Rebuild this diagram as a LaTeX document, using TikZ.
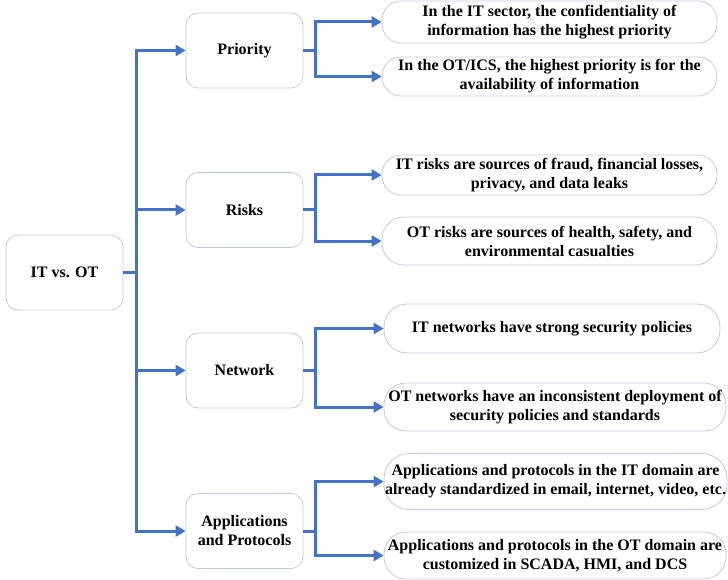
\documentclass[tikz,border=0pt]{standalone}
\usepackage{fontspec}
\setmainfont{Liberation Serif}[BoldFont={Liberation Serif Bold}]
\usetikzlibrary{arrows.meta}
\definecolor{linkblue}{HTML}{4472C4}
\definecolor{boxline}{HTML}{C3CBE3}
\begin{document}
\begin{tikzpicture}[x=1pt,y=-1pt,
  box/.style={draw=boxline, line width=0.8pt, rounded corners=12pt, align=center,
    font=\fontsize{16}{19}\selectfont\bfseries, minimum width=117pt, minimum height=75pt, inner sep=0pt},
  leaf/.style={draw=boxline, line width=0.8pt, rounded corners=19pt, align=center,
    font=\fontsize{16}{19}\selectfont\bfseries, inner sep=0pt},
  link/.style={draw=linkblue, line width=3pt, -{Triangle[length=10pt,width=11pt]}}
]
\useasboundingbox (0,0) rectangle (728,580);
\node[box] (root) at (64.5,272.5) {IT vs. OT};
\node[box] (pri) at (244.5,50.5) {Priority};
\node[box] (risk) at (244.5,210) {Risks};
\node[box] (net) at (244.5,370.5) {Network};
\node[box] (app) at (244.5,531) {Applications\\and Protocols};

\node[leaf, minimum width=335pt, minimum height=42pt] (l1) at (549.5,22) {In the IT sector, the confidentiality of\\information has the highest priority};
\node[leaf, minimum width=335pt, minimum height=39pt] (l2) at (549.5,76.5) {In the OT/ICS, the highest priority is for the\\availability of information};
\node[leaf, minimum width=335pt, minimum height=40pt] (l3) at (549.5,175) {IT risks are sources of fraud, financial losses,\\privacy, and data leaks};
\node[leaf, rounded corners=22pt, minimum width=335pt, minimum height=48pt] (l4) at (549.5,241) {OT risks are sources of health, safety, and\\environmental casualties};
\node[leaf, rounded corners=23pt, minimum width=336pt, minimum height=49pt] (l5) at (552,328.5) {IT networks have strong security policies};
\node[leaf, rounded corners=22pt, minimum width=342pt, minimum height=48pt] (l6) at (555,407) {OT networks have an inconsistent deployment of\\security policies and standards};
\node[leaf, rounded corners=25pt, minimum width=343pt, minimum height=56pt] (l7) at (555.5,481.5) {Applications and protocols in the IT domain are\\already standardized in email, internet, video, etc.};
\node[leaf, rounded corners=22pt, minimum width=342pt, minimum height=47pt] (l8) at (555,555.5) {Applications and protocols in the OT domain are\\customized in SCADA, HMI, and DCS};

\foreach \c in {pri,risk,net,app}
  \draw[link] (root.east) -- ++(13,0) |- (\c.west);
\foreach \c/\a/\b in {pri/l1/l2,risk/l3/l4,net/l5/l6,app/l7/l8}{
  \draw[link] (\c.east) -- ++(12,0) |- (\a.west);
  \draw[link] (\c.east) -- ++(12,0) |- (\b.west);
}
\end{tikzpicture}
\end{document}
